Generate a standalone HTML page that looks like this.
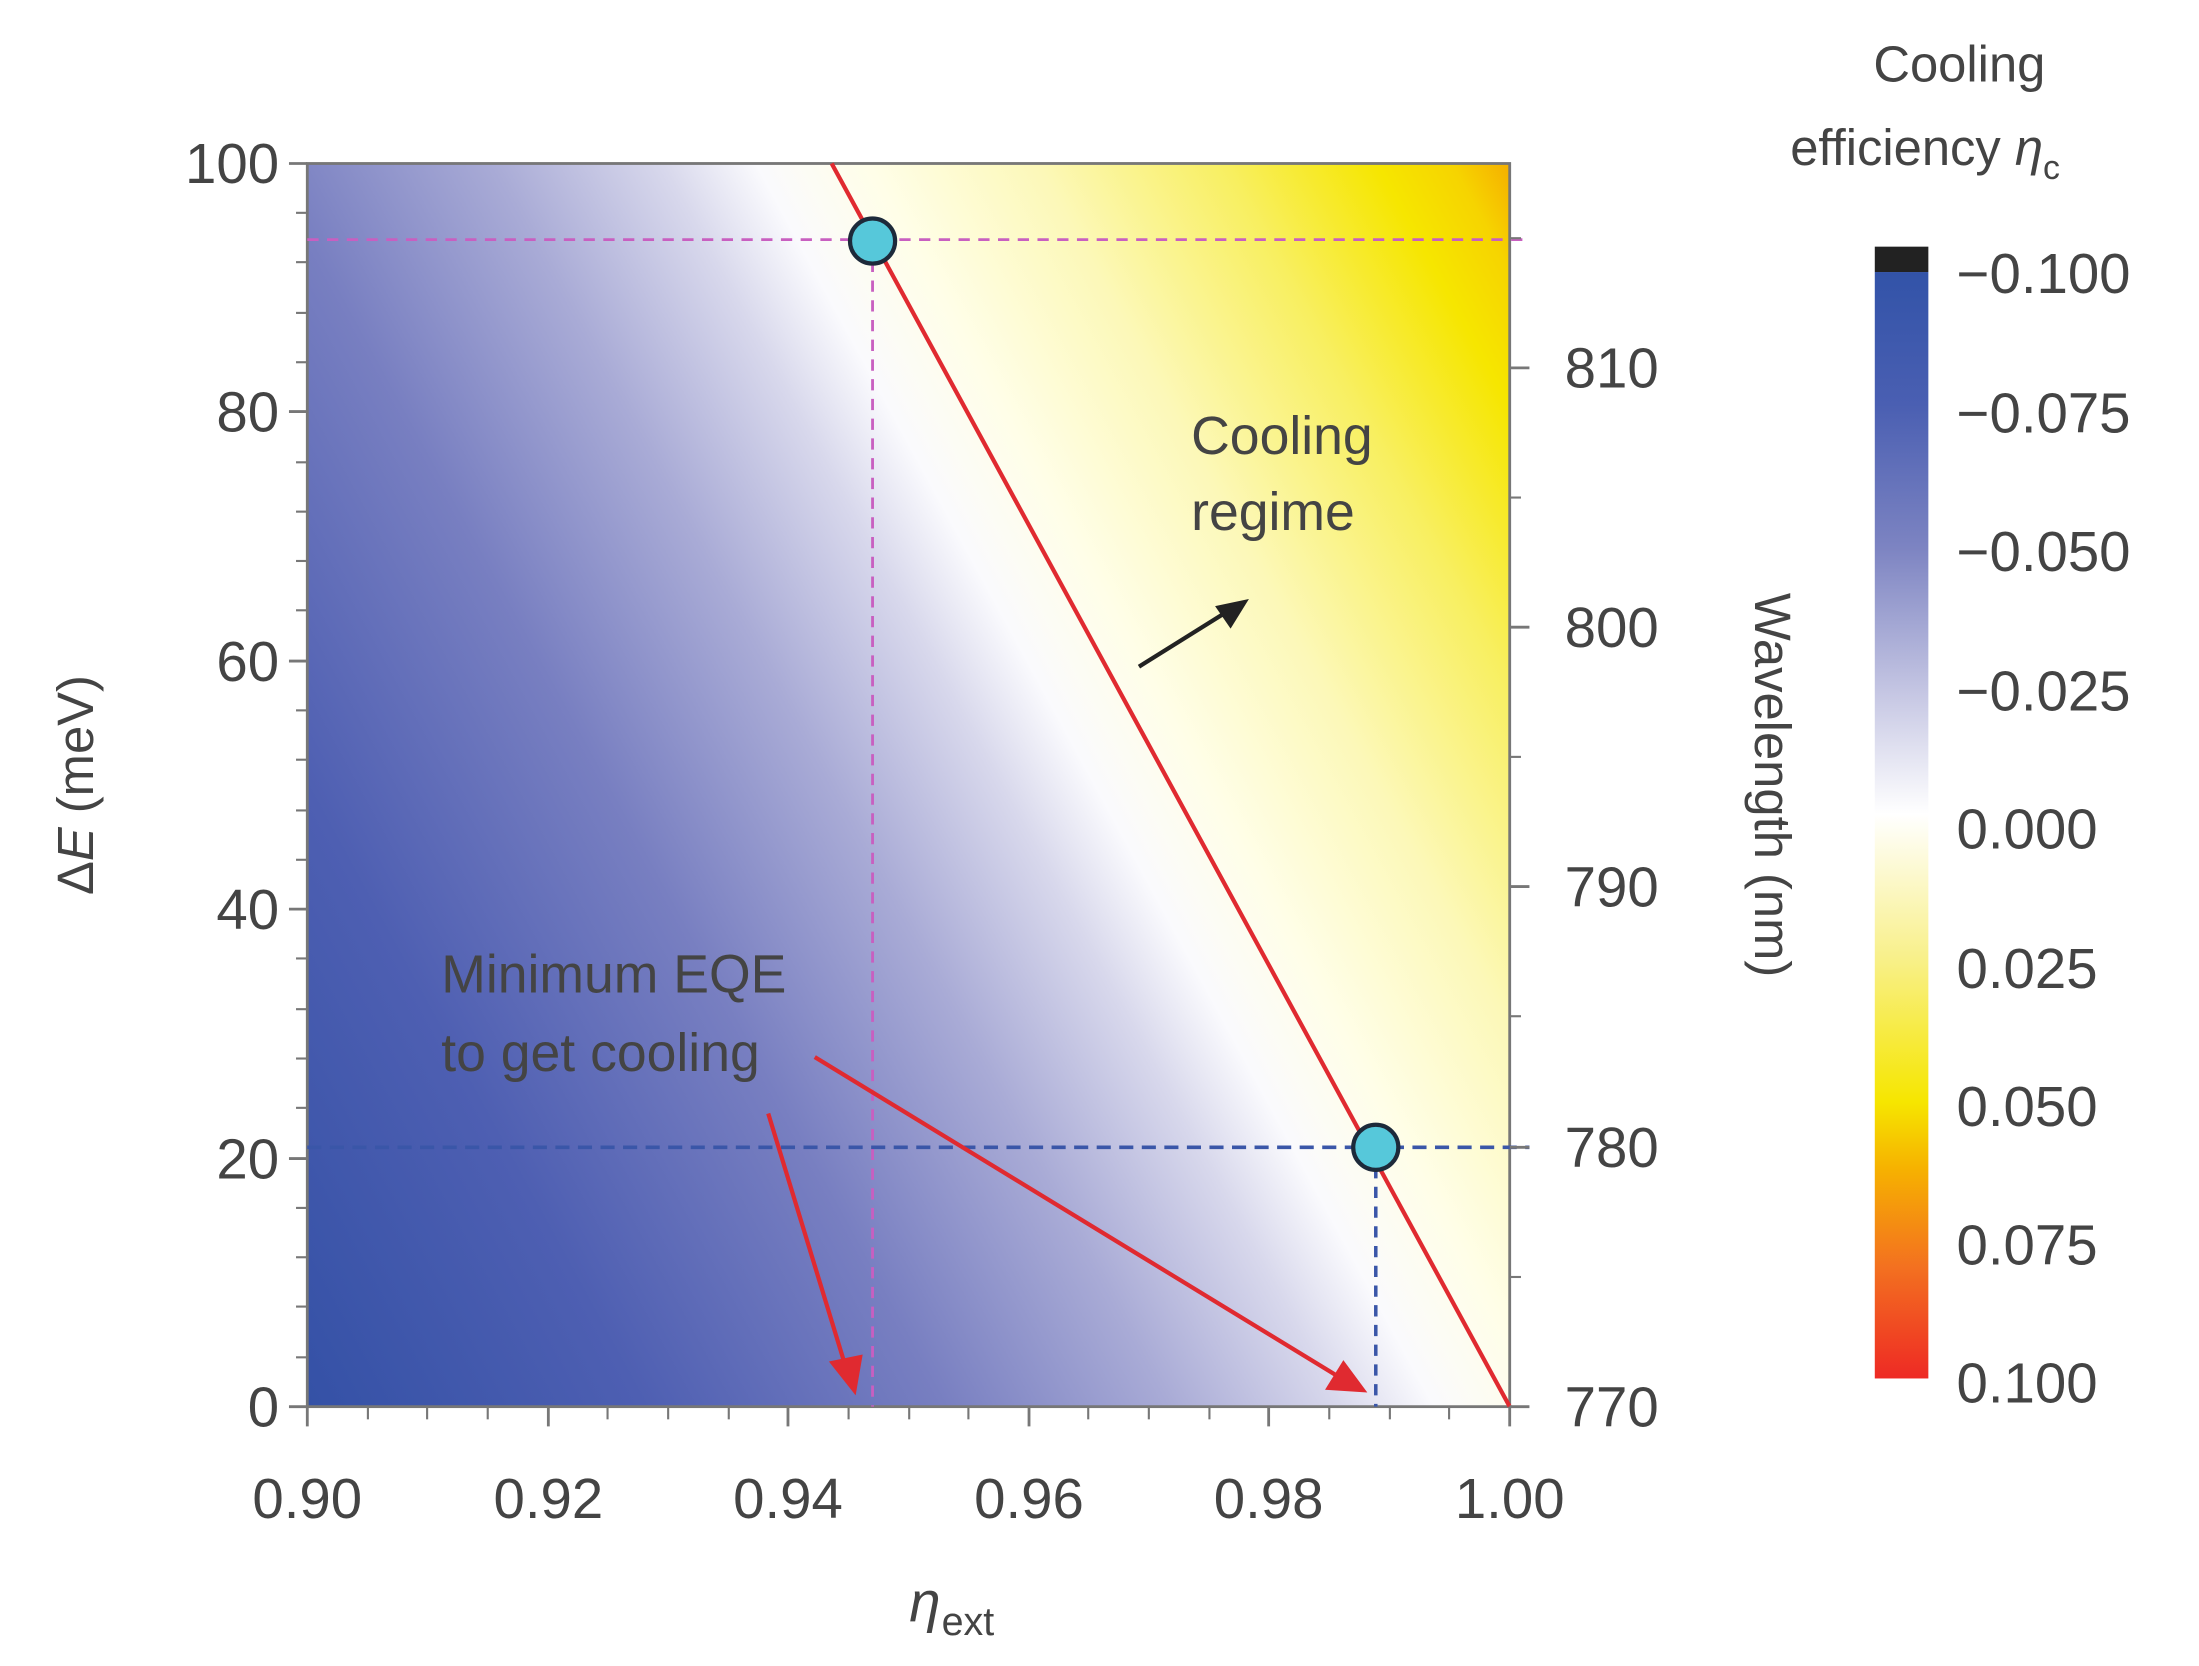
<!DOCTYPE html>
<html><head><meta charset="utf-8"><style>
html,body{margin:0;padding:0;background:#fff;}
svg{display:block;}
text{font-family:"Liberation Sans",sans-serif;fill:#444;}
</style></head><body>
<svg width="2199" height="1666" viewBox="0 0 1560 1182" preserveAspectRatio="none" xmlns="http://www.w3.org/2000/svg">
<defs>
<linearGradient id="hm" gradientUnits="userSpaceOnUse" x1="413" y1="1357" x2="1441" y2="796">
<stop offset="0" stop-color="#3451a6"/>
<stop offset="0.18" stop-color="#4e5fb2"/>
<stop offset="0.34" stop-color="#787fc1"/>
<stop offset="0.46" stop-color="#a9abd6"/>
<stop offset="0.55" stop-color="#d8d8ec"/>
<stop offset="0.60" stop-color="#fafafd"/>
<stop offset="0.66" stop-color="#fffee8"/>
<stop offset="0.75" stop-color="#fcf8b8"/>
<stop offset="0.85" stop-color="#f8ef60"/>
<stop offset="0.93" stop-color="#f6e600"/>
<stop offset="0.97" stop-color="#f6d400"/>
<stop offset="1" stop-color="#f5b000"/>
</linearGradient>
<linearGradient id="cb" x1="0" y1="0" x2="0" y2="1">
<stop offset="0" stop-color="#3253a8"/>
<stop offset="0.12" stop-color="#4a5fb2"/>
<stop offset="0.25" stop-color="#7d84c2"/>
<stop offset="0.38" stop-color="#c5c6e3"/>
<stop offset="0.49" stop-color="#ffffff"/>
<stop offset="0.62" stop-color="#f8f08a"/>
<stop offset="0.75" stop-color="#f6e600"/>
<stop offset="0.81" stop-color="#f6b200"/>
<stop offset="0.9" stop-color="#f37020"/>
<stop offset="1" stop-color="#ee2a24"/>
</linearGradient>
</defs>
<rect x="218" y="116" width="853" height="882" fill="url(#hm)"/>
<rect x="218" y="116" width="853" height="882" fill="none" stroke="#777" stroke-width="2"/>
<line x1="218" y1="170" x2="1085" y2="170" stroke="#c85fc0" stroke-width="2" stroke-dasharray="8,6"/>
<line x1="619" y1="171" x2="619" y2="998" stroke="#c85fc0" stroke-width="2" stroke-dasharray="8,6"/>
<line x1="218" y1="814" x2="1085" y2="814" stroke="#3a56a8" stroke-width="2.5" stroke-dasharray="10,6"/>
<line x1="976" y1="814" x2="976" y2="998" stroke="#3a56a8" stroke-width="2.5" stroke-dasharray="8,6"/>
<line x1="590" y1="116" x2="1071" y2="998" stroke="#e02a30" stroke-width="3"/>
<circle cx="619" cy="171" r="16" fill="#56c8da" stroke="#1d2a3a" stroke-width="3"/>
<circle cx="976" cy="814" r="16" fill="#56c8da" stroke="#1d2a3a" stroke-width="3"/>
<line x1="545" y1="790" x2="600" y2="970" stroke="#e02a30" stroke-width="3"/>
<polygon points="607,990 588,966 612,961" fill="#e02a30"/>
<line x1="578" y1="750" x2="950" y2="977" stroke="#e02a30" stroke-width="3"/>
<polygon points="970,988 940,986 953,965" fill="#e02a30"/>
<line x1="808" y1="473" x2="872" y2="433" stroke="#222" stroke-width="3"/>
<polygon points="886,425 862,430 873,446" fill="#222"/>
<g stroke="#777" stroke-width="2">
<line x1="205" y1="116" x2="218" y2="116"/><line x1="205" y1="292" x2="218" y2="292"/><line x1="205" y1="469" x2="218" y2="469"/><line x1="205" y1="645" x2="218" y2="645"/><line x1="205" y1="822" x2="218" y2="822"/><line x1="205" y1="998" x2="218" y2="998"/>
<line x1="218" y1="998" x2="218" y2="1012"/><line x1="389" y1="998" x2="389" y2="1012"/><line x1="559" y1="998" x2="559" y2="1012"/><line x1="730" y1="998" x2="730" y2="1012"/><line x1="900" y1="998" x2="900" y2="1012"/><line x1="1071" y1="998" x2="1071" y2="1012"/>
<line x1="1071" y1="998" x2="1085" y2="998"/><line x1="1071" y1="814" x2="1085" y2="814"/><line x1="1071" y1="629" x2="1085" y2="629"/><line x1="1071" y1="445" x2="1085" y2="445"/><line x1="1071" y1="261" x2="1085" y2="261"/>
</g>
<g stroke="#777" stroke-width="1.5">
<line x1="210" y1="151" x2="218" y2="151"/><line x1="210" y1="186" x2="218" y2="186"/><line x1="210" y1="222" x2="218" y2="222"/><line x1="210" y1="257" x2="218" y2="257"/>
<line x1="210" y1="328" x2="218" y2="328"/><line x1="210" y1="363" x2="218" y2="363"/><line x1="210" y1="398" x2="218" y2="398"/><line x1="210" y1="433" x2="218" y2="433"/>
<line x1="210" y1="504" x2="218" y2="504"/><line x1="210" y1="539" x2="218" y2="539"/><line x1="210" y1="575" x2="218" y2="575"/><line x1="210" y1="610" x2="218" y2="610"/>
<line x1="210" y1="680" x2="218" y2="680"/><line x1="210" y1="716" x2="218" y2="716"/><line x1="210" y1="751" x2="218" y2="751"/><line x1="210" y1="786" x2="218" y2="786"/>
<line x1="210" y1="857" x2="218" y2="857"/><line x1="210" y1="892" x2="218" y2="892"/><line x1="210" y1="927" x2="218" y2="927"/><line x1="210" y1="963" x2="218" y2="963"/>
<line x1="261" y1="998" x2="261" y2="1007"/><line x1="303" y1="998" x2="303" y2="1007"/><line x1="346" y1="998" x2="346" y2="1007"/>
<line x1="431" y1="998" x2="431" y2="1007"/><line x1="474" y1="998" x2="474" y2="1007"/><line x1="517" y1="998" x2="517" y2="1007"/>
<line x1="602" y1="998" x2="602" y2="1007"/><line x1="645" y1="998" x2="645" y2="1007"/><line x1="687" y1="998" x2="687" y2="1007"/>
<line x1="772" y1="998" x2="772" y2="1007"/><line x1="815" y1="998" x2="815" y2="1007"/><line x1="858" y1="998" x2="858" y2="1007"/>
<line x1="943" y1="998" x2="943" y2="1007"/><line x1="986" y1="998" x2="986" y2="1007"/><line x1="1028" y1="998" x2="1028" y2="1007"/>
<line x1="1071" y1="906" x2="1079" y2="906"/><line x1="1071" y1="721" x2="1079" y2="721"/><line x1="1071" y1="537" x2="1079" y2="537"/><line x1="1071" y1="353" x2="1079" y2="353"/><line x1="1071" y1="169" x2="1079" y2="169"/>
</g>
<g font-size="40" text-anchor="end">
<text x="198" y="130">100</text><text x="198" y="306">80</text><text x="198" y="483">60</text><text x="198" y="659">40</text><text x="198" y="836">20</text><text x="198" y="1012">0</text>
</g>
<g font-size="40" text-anchor="middle">
<text x="218" y="1077">0.90</text><text x="389" y="1077">0.92</text><text x="559" y="1077">0.94</text><text x="730" y="1077">0.96</text><text x="900" y="1077">0.98</text><text x="1071" y="1077">1.00</text>
</g>
<g font-size="40">
<text x="1110" y="1012">770</text><text x="1110" y="828">780</text><text x="1110" y="643">790</text><text x="1110" y="459">800</text><text x="1110" y="275">810</text>
</g>
<text x="0" y="0" font-size="36" text-anchor="middle" transform="translate(66,557) rotate(-90)">Δ<tspan font-style="italic">E</tspan> (meV)</text>
<text x="0" y="0" font-size="36" text-anchor="middle" transform="translate(1245,557) rotate(90)">Wavelength (nm)</text>
<text x="645" y="1150" font-size="40" font-style="italic">η</text><text x="668" y="1160" font-size="28">ext</text>
<text x="845" y="322" font-size="38" fill="#333">Cooling</text>
<text x="845" y="376" font-size="38" fill="#333">regime</text>
<text x="313" y="704" font-size="38" fill="#333">Minimum EQE</text>
<text x="313" y="760" font-size="38" fill="#333">to get cooling</text>
<text x="1390" y="58" font-size="36" text-anchor="middle">Cooling</text>
<text x="1270" y="117" font-size="36">efficiency <tspan font-style="italic">η</tspan><tspan font-size="24" dy="10">c</tspan></text>
<rect x="1330" y="193" width="38" height="785" fill="url(#cb)"/>
<rect x="1330" y="175" width="38" height="18" fill="#222"/>
<g font-size="40">
<text x="1388" y="208">−0.100</text><text x="1388" y="307">−0.075</text><text x="1388" y="405">−0.050</text><text x="1388" y="504">−0.025</text>
<text x="1388" y="602">0.000</text><text x="1388" y="701">0.025</text><text x="1388" y="799">0.050</text><text x="1388" y="897">0.075</text><text x="1388" y="995">0.100</text>
</g>
</svg>
</body></html>
